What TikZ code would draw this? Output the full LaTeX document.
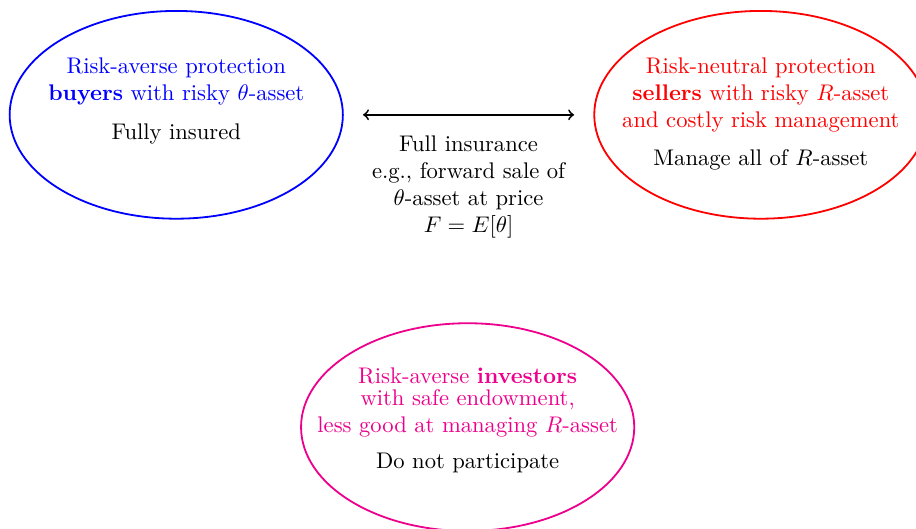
\documentclass[tikz,border=0pt]{standalone}
\usepackage{amsmath}
\usepackage{amssymb}
\usepackage{tikz}
\usetikzlibrary{shapes,arrows,positioning}
\definecolor{investorpink}{RGB}{236,0,140}

\begin{document}
\begin{tikzpicture}[
	party/.style={ellipse, draw, thick, minimum width=5.18cm, minimum height=3.23cm},
	partytext/.style={anchor=north, align=center}
]
	%Fix the size of the picture
	\useasboundingbox (0,0) rectangle (14.24,-8.21);

	%The three groups of agents
	\node[party, blue] (buyers) at (2.74,-1.785) {};
	\node[party, red, right=3.88cm of buyers] (sellers) {};
	\node[party, investorpink] (investors) at (7.27,-6.64) {};

	%Who they are and what they do
	\node[partytext, blue] (buyerstext) at ([yshift=1.015cm]buyers.center)
		{Risk-averse protection\\ \textbf{buyers} with risky $\theta$-asset\\[5.3pt] \textcolor{black}{Fully insured}};
	\node[partytext, red] (sellerstext) at ([yshift=1.015cm]sellers.center)
		{Risk-neutral protection\\ \textbf{sellers} with risky $R$-asset\\ and costly risk management\\[4.8pt] \textcolor{black}{Manage all of $R$-asset}};
	\node[partytext, investorpink] (investorstext) at ([yshift=1.05cm]investors.center)
		{Risk-averse \textbf{investors}\\[-2.3pt] with safe endowment,\\ less good at managing $R$-asset\\[3.9pt] \textcolor{black}{Do not participate}};

	%Insurance contract between buyers and sellers
	\draw[thick, <->, shorten <=0.3cm, shorten >=0.3cm] (buyers) -- (sellers)
		node[midway, below=5.5pt, align=center] (insurance) {Full insurance\\ e.g., forward sale of\\ $\theta$-asset at price\\ $F=E[\theta]$};

\end{tikzpicture}
\end{document}
